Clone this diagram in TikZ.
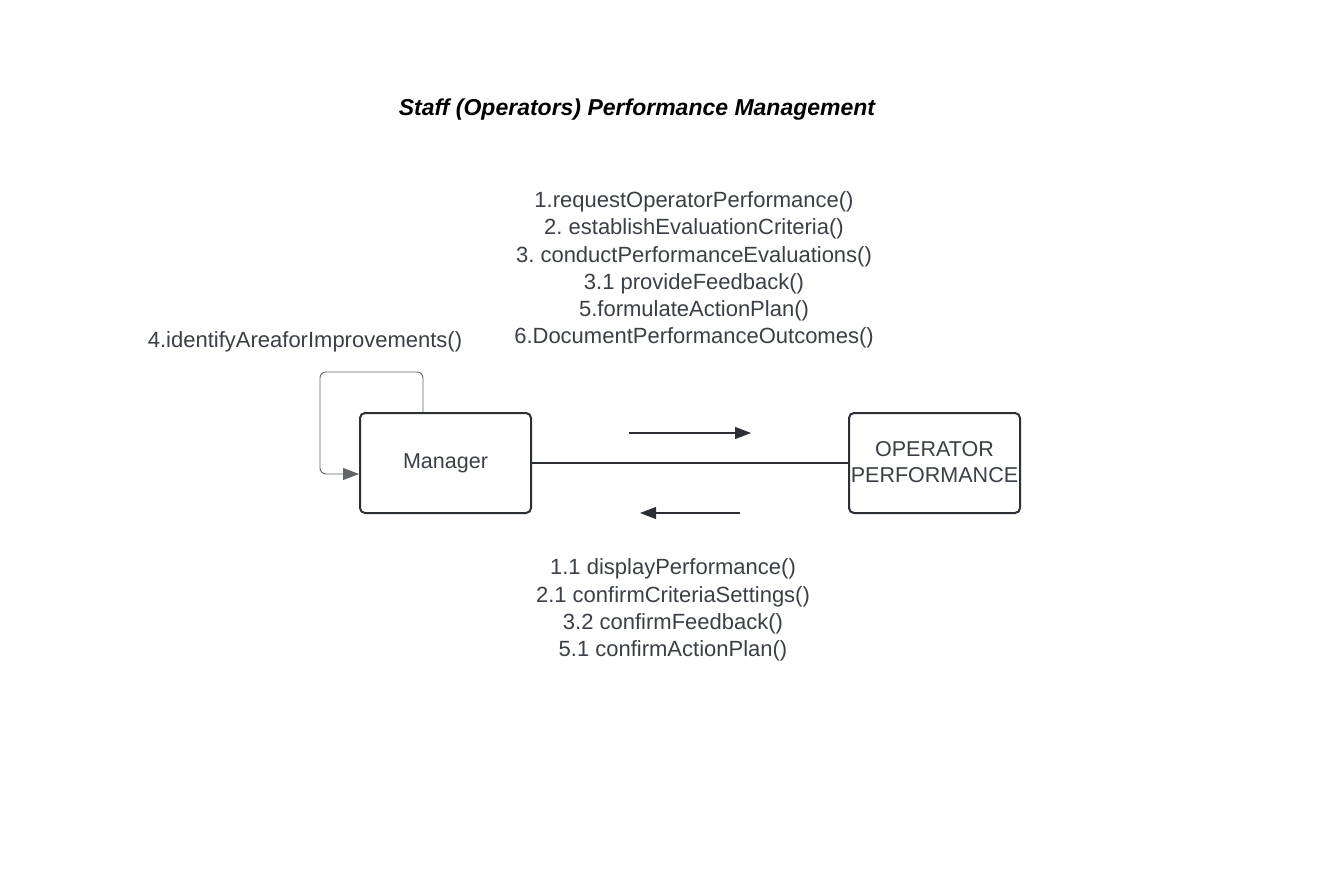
\documentclass[tikz,border=0pt]{standalone}
\usepackage{fontspec}
\setmainfont{Liberation Sans}
\usepackage{tikz}
\usetikzlibrary{arrows.meta}
\frenchspacing

\definecolor{ink}{HTML}{3A3F48}
\definecolor{edge}{HTML}{2C3036}

\tikzset{
  obj/.style={draw=edge, line width=2pt, rounded corners=5pt, minimum width=171pt,
    minimum height=100pt, inner sep=0pt, align=center, text=ink,
    font=\fontsize{21.5}{26}\selectfont},
  msg/.style={align=center, text=ink, inner sep=0pt, font=\fontsize{22}{27.2}\selectfont},
  tip/.style={-{Triangle[length=16pt,width=12pt]}}
}

\begin{document}
\begin{tikzpicture}[x=1pt,y=-1pt]
\useasboundingbox[fill=white] (0,0) rectangle (1325,873);

\node[anchor=center, font=\fontsize{23}{27}\selectfont\bfseries\itshape] (title) at (637,110)
{Staff (Operators) Performance Management};

\node[obj] (manager) at (445.5,463) {\raisebox{3pt}{Manager}};

\node[obj] (operator) at (934.5,463) {\raisebox{3pt}{OPERATOR}\\\raisebox{3pt}{PERFORMANCE}};

\draw[edge, line width=1.1pt] (manager) -- (operator);

\coordinate (req1) at (629,433);
\coordinate (req2) at (751,433);
\draw[edge, line width=1.1pt, tip] (req1) -- (req2);

\coordinate (rep1) at (740,513);
\coordinate (rep2) at (640,513);
\draw[edge, line width=1.1pt, tip] (rep1) -- (rep2);

\coordinate (loop1) at ([xshift=-22.5pt]manager.north);
\coordinate (loop2) at ([yshift=-11pt]manager.west);
\draw[edge!75, line width=0.9pt, rounded corners=6pt, tip] (loop1) |- (320,372) |- (loop2);

\node[msg] (calls) at (694,270)
{1.requestOperatorPerformance()\\
2. establishEvaluationCriteria()\\
3. conductPerformanceEvaluations()\\
3.1 provideFeedback()\\
5.formulateActionPlan()\\
6.DocumentPerformanceOutcomes()};

\node[msg] (self) at (305,342)
{4.identifyAreaforImprovements()};

\node[msg] (replies) at (673,610)
{1.1 displayPerformance()\\
2.1 confirmCriteriaSettings()\\
3.2 confirmFeedback()\\
5.1 confirmActionPlan()};
\end{tikzpicture}
\end{document}
